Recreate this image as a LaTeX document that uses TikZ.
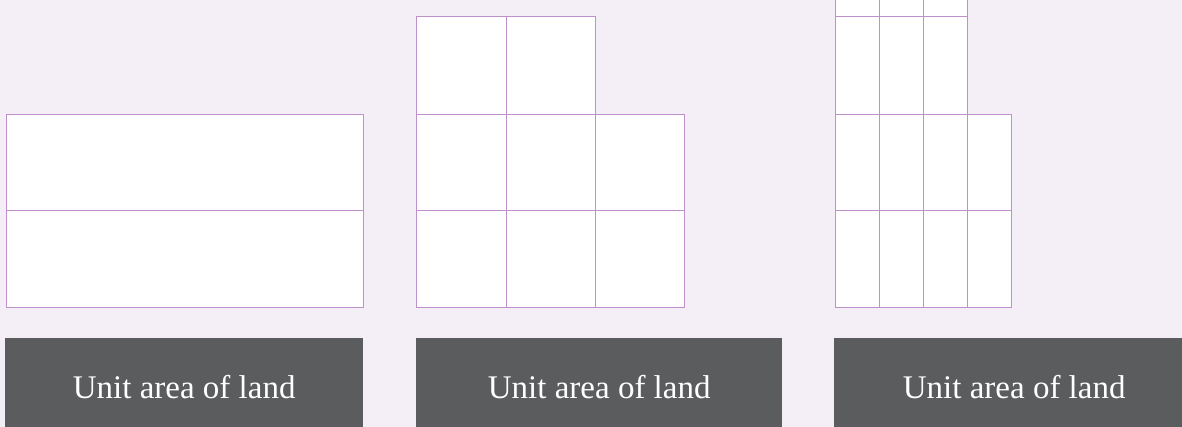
\documentclass[tikz,border=0pt]{standalone}
\usepackage{fontspec}
\setmainfont{Liberation Serif}
\definecolor{bg}{RGB}{244,238,246}
\definecolor{stroke}{RGB}{192,144,202}
\definecolor{labelgray}{RGB}{91,92,94}
\tikzset{
  cell/.style={draw=stroke, fill=white, line width=1.3pt, inner sep=0pt, anchor=north west},
  labelbox/.style={fill=labelgray, inner sep=0pt, anchor=north west, minimum height=100pt},
  labeltext/.style={text=white, font=\fontsize{33}{36}\selectfont, anchor=base, inner sep=0pt}
}
\begin{document}
\begin{tikzpicture}[x=1pt,y=-1pt]
\useasboundingbox (0,0) rectangle (1182,427);
\clip (0,0) rectangle (1182,427);
\fill[bg] (0,0) rectangle (1182,427);
% Panel 1
\node[cell, minimum width=357pt, minimum height=96pt] (a1) at (6,114) {};
\node[cell, minimum width=357pt, minimum height=97pt] (a2) at (6,210) {};
% Panel 2
\foreach \x/\w/\n in {416/90/1,506/89/2}{
  \node[cell, minimum width=\w pt, minimum height=98pt] (b0\n) at (\x,16) {};
}
\foreach \x/\w/\n in {416/90/1,506/89/2,595/89/3}{
  \node[cell, minimum width=\w pt, minimum height=96pt] (b1\n) at (\x,114) {};
  \node[cell, minimum width=\w pt, minimum height=97pt] (b2\n) at (\x,210) {};
}
% Panel 3
\foreach \x/\n in {835/1,879/2,923/3}{
  \node[cell, minimum width=44pt, minimum height=97pt] (cm\n) at (\x,-81) {};
  \node[cell, minimum width=44pt, minimum height=98pt] (c0\n) at (\x,16) {};
}
\foreach \x/\n in {835/1,879/2,923/3,967/4}{
  \node[cell, minimum width=44pt, minimum height=96pt] (c1\n) at (\x,114) {};
  \node[cell, minimum width=44pt, minimum height=97pt] (c2\n) at (\x,210) {};
}
% Labels
\node[labelbox, minimum width=358pt] (L1) at (5,338) {};
\node[labelbox, minimum width=366pt] (L2) at (416,338) {};
\node[labelbox, minimum width=360pt] (L3) at (834,338) {};
\node[labeltext] (T1) at (L1.north |- 0,398) {Unit area of land};
\node[labeltext] (T2) at (L2.north |- 0,398) {Unit area of land};
\node[labeltext] (T3) at (L3.north |- 0,398) {Unit area of land};
\end{tikzpicture}
\end{document}
